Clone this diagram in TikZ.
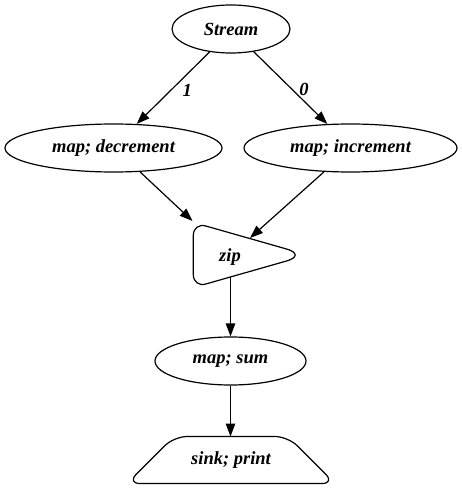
\documentclass[tikz,border=0pt]{standalone}
\usepackage{fontspec}
\setmainfont{Liberation Serif}
\usetikzlibrary{shapes.geometric,arrows.meta}
\begin{document}
\begin{tikzpicture}[x=1pt,y=-1pt,
  every node/.style={font=\fontsize{18.5}{21}\selectfont\bfseries\itshape},
  ell/.style={draw,ellipse,inner sep=0pt,minimum height=48pt,line width=1.2pt},
  shp/.style={line width=1.2pt},
  conn/.style={-{Triangle[length=13pt,width=9.5pt]},line width=1.2pt},
  lbl/.style={inner sep=0pt}]
\useasboundingbox (0,0) rectangle (462,489);
\node[ell,minimum width=118pt] (s) at (231,29) {Stream};
\node[ell,minimum width=217pt] (d) at (113.5,148) {map; decrement};
\node[ell,minimum width=213pt] (i) at (350.5,148) {map; increment};
\node[ell,minimum width=151pt] (m) at (230.5,361) {map; sum};
% zip shape
\draw[shp] (193.3,235.4) .. controls (193.3,228.2) and (198.9,224.0) .. (205.8,226.0)
  -- (286.45,248.97) .. controls (298.1,252.3) and (298.1,257.7) .. (286.45,261.03)
  -- (205.8,284.0) .. controls (198.9,286.0) and (193.3,281.8) .. (193.3,274.6) -- cycle;
\node (z) at (230,257) {zip};
\coordinate (zl) at (192.5,221);
\coordinate (zr) at (250,238);
\coordinate (zb) at (230.5,277.3);
% sink shape
\draw[shp,rounded corners=13pt] (230.5,436.5) -- (288,436.5) -- (335,483.5) -- (127,483.5) -- (174,436.5) -- cycle;
\node (k) at (231,460) {sink; print};
\coordinate (kt) at (230.5,436.5);
% connectors
\draw[conn] (s.227) -- node[lbl,pos=0.5,xshift=14pt,yshift=-2pt]{1} (d.46);
\draw[conn] (s.315) -- node[lbl,pos=0.5,xshift=13.5pt,yshift=-2pt]{0} (i.134);
\draw[conn] (d.-42) -- (zl);
\draw[conn] (i.222) -- (zr);
\draw[conn] (zb) -- (zb |- m.north);
\draw[conn] (m.south) -- (kt);
\end{tikzpicture}
\end{document}
